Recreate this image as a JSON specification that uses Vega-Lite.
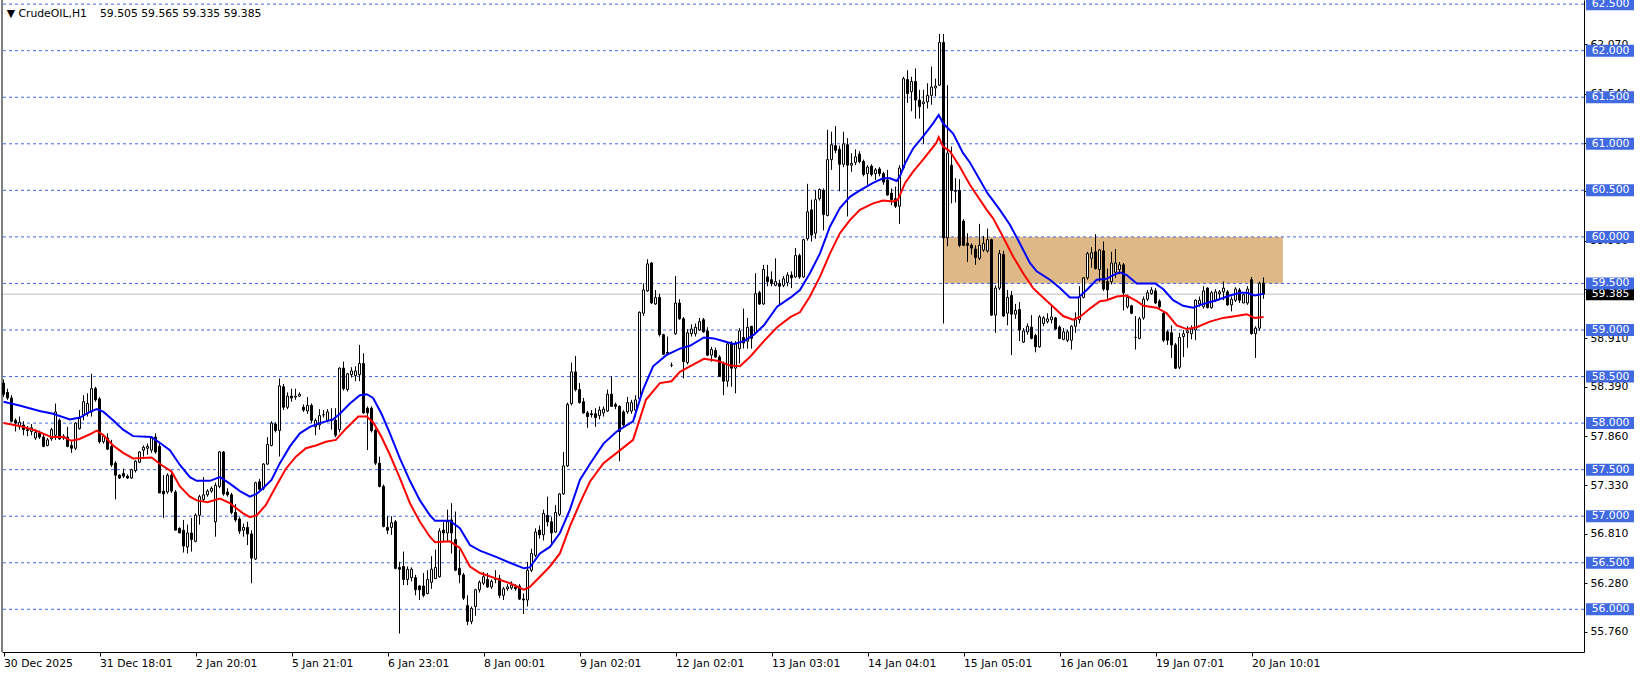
{
"$schema": "https://vega.github.io/schema/vega-lite/v6.json",
"width": 1582, "height": 652,
"autosize": {"type": "none"},
"padding": {"left": 2, "top": 0, "right": 57, "bottom": 23},
"background": "white",
"config": {"view": {"stroke": null}, "font": "DejaVu Sans", "scale": {"continuousPadding": 0}},
"datasets": {
"levels": [{"p":56.0},{"p":56.5},{"p":57.0},{"p":57.5},{"p":58.0},{"p":58.5},{"p":59.0},{"p":59.5},{"p":60.0},{"p":60.5},{"p":61.0},{"p":61.5},{"p":62.0},{"p":62.5}],
"candles": [
{"i":0,"o":58.43,"h":58.47,"l":58.28,"c":58.31},
{"i":1,"o":58.33,"h":58.37,"l":58.25,"c":58.27},
{"i":2,"o":58.27,"h":58.30,"l":58.01,"c":58.02},
{"i":3,"o":58.03,"h":58.05,"l":57.91,"c":58.00},
{"i":4,"o":57.96,"h":58.07,"l":57.93,"c":58.01},
{"i":5,"o":57.98,"h":58.02,"l":57.87,"c":57.93},
{"i":6,"o":57.93,"h":57.97,"l":57.86,"c":57.92},
{"i":7,"o":57.91,"h":57.99,"l":57.87,"c":57.95},
{"i":8,"o":57.84,"h":57.93,"l":57.82,"c":57.90},
{"i":9,"o":57.89,"h":57.92,"l":57.83,"c":57.85},
{"i":10,"o":57.85,"h":57.89,"l":57.74,"c":57.75},
{"i":11,"o":57.76,"h":57.84,"l":57.75,"c":57.82},
{"i":12,"o":57.83,"h":57.95,"l":57.81,"c":57.93},
{"i":13,"o":57.87,"h":58.21,"l":57.82,"c":58.12},
{"i":14,"o":58.03,"h":58.05,"l":57.82,"c":57.83},
{"i":15,"o":57.86,"h":57.88,"l":57.82,"c":57.84},
{"i":16,"o":57.85,"h":57.96,"l":57.74,"c":57.75},
{"i":17,"o":57.76,"h":57.82,"l":57.68,"c":57.73},
{"i":18,"o":57.73,"h":58.01,"l":57.71,"c":58.00},
{"i":19,"o":57.94,"h":58.14,"l":57.93,"c":58.05},
{"i":20,"o":58.09,"h":58.30,"l":58.03,"c":58.23},
{"i":21,"o":58.11,"h":58.32,"l":58.07,"c":58.21},
{"i":22,"o":58.12,"h":58.53,"l":58.07,"c":58.37},
{"i":23,"o":58.37,"h":58.39,"l":58.23,"c":58.25},
{"i":24,"o":58.26,"h":58.28,"l":57.78,"c":57.80},
{"i":25,"o":57.80,"h":57.88,"l":57.78,"c":57.86},
{"i":26,"o":57.84,"h":57.89,"l":57.71,"c":57.72},
{"i":27,"o":57.75,"h":57.82,"l":57.53,"c":57.55},
{"i":28,"o":57.57,"h":57.59,"l":57.18,"c":57.44},
{"i":29,"o":57.44,"h":57.45,"l":57.40,"c":57.41},
{"i":30,"o":57.46,"h":57.51,"l":57.41,"c":57.43},
{"i":31,"o":57.43,"h":57.45,"l":57.40,"c":57.41},
{"i":32,"o":57.41,"h":57.51,"l":57.40,"c":57.50},
{"i":33,"o":57.49,"h":57.60,"l":57.47,"c":57.59},
{"i":34,"o":57.58,"h":57.70,"l":57.57,"c":57.69},
{"i":35,"o":57.71,"h":57.76,"l":57.64,"c":57.74},
{"i":36,"o":57.73,"h":57.78,"l":57.66,"c":57.75},
{"i":37,"o":57.71,"h":57.85,"l":57.68,"c":57.84},
{"i":38,"o":57.85,"h":57.89,"l":57.67,"c":57.69},
{"i":39,"o":57.75,"h":57.78,"l":57.25,"c":57.25},
{"i":40,"o":57.27,"h":57.44,"l":56.98,"c":57.24},
{"i":41,"o":57.26,"h":57.46,"l":57.24,"c":57.44},
{"i":42,"o":57.44,"h":57.46,"l":57.25,"c":57.27},
{"i":43,"o":57.26,"h":57.28,"l":56.85,"c":56.85},
{"i":44,"o":56.87,"h":56.88,"l":56.82,"c":56.82},
{"i":45,"o":56.85,"h":56.96,"l":56.61,"c":56.68},
{"i":46,"o":56.67,"h":56.91,"l":56.60,"c":56.82},
{"i":47,"o":56.82,"h":56.98,"l":56.62,"c":56.75},
{"i":48,"o":56.73,"h":57.03,"l":56.72,"c":57.01},
{"i":49,"o":57.01,"h":57.23,"l":56.91,"c":57.21},
{"i":50,"o":57.18,"h":57.42,"l":57.16,"c":57.23},
{"i":51,"o":57.23,"h":57.29,"l":57.21,"c":57.27},
{"i":52,"o":57.27,"h":57.32,"l":57.25,"c":57.30},
{"i":53,"o":56.94,"h":57.36,"l":56.78,"c":57.33},
{"i":54,"o":57.32,"h":57.70,"l":57.30,"c":57.69},
{"i":55,"o":57.69,"h":57.70,"l":57.22,"c":57.24},
{"i":56,"o":57.26,"h":57.30,"l":57.21,"c":57.23},
{"i":57,"o":57.23,"h":57.25,"l":57.02,"c":57.04},
{"i":58,"o":57.04,"h":57.13,"l":56.94,"c":56.96},
{"i":59,"o":56.97,"h":56.99,"l":56.81,"c":56.84},
{"i":60,"o":56.85,"h":56.92,"l":56.78,"c":56.88},
{"i":61,"o":56.88,"h":56.94,"l":56.69,"c":56.81},
{"i":62,"o":56.81,"h":56.85,"l":56.28,"c":56.55},
{"i":63,"o":56.54,"h":57.37,"l":56.53,"c":57.36},
{"i":64,"o":57.37,"h":57.40,"l":57.27,"c":57.29},
{"i":65,"o":57.30,"h":57.57,"l":57.28,"c":57.56},
{"i":66,"o":57.56,"h":57.85,"l":57.55,"c":57.77},
{"i":67,"o":57.76,"h":58.02,"l":57.75,"c":58.00},
{"i":68,"o":57.99,"h":58.01,"l":57.90,"c":57.92},
{"i":69,"o":57.92,"h":58.48,"l":57.64,"c":58.40},
{"i":70,"o":58.39,"h":58.42,"l":58.14,"c":58.17},
{"i":71,"o":58.17,"h":58.33,"l":58.15,"c":58.29},
{"i":72,"o":58.29,"h":58.37,"l":58.23,"c":58.27},
{"i":73,"o":58.28,"h":58.37,"l":58.25,"c":58.29},
{"i":74,"o":58.29,"h":58.33,"l":58.28,"c":58.31},
{"i":75,"o":58.17,"h":58.20,"l":58.12,"c":58.14},
{"i":76,"o":58.13,"h":58.28,"l":58.10,"c":58.19},
{"i":77,"o":58.19,"h":58.21,"l":58.00,"c":58.03},
{"i":78,"o":57.96,"h":58.05,"l":57.87,"c":58.03},
{"i":79,"o":57.98,"h":58.15,"l":57.93,"c":58.08},
{"i":80,"o":58.09,"h":58.14,"l":58.06,"c":58.09},
{"i":81,"o":58.03,"h":58.15,"l":58.01,"c":58.12},
{"i":82,"o":58.04,"h":58.16,"l":57.93,"c":58.03},
{"i":83,"o":58.03,"h":58.16,"l":57.85,"c":57.87},
{"i":84,"o":57.93,"h":58.60,"l":57.90,"c":58.59},
{"i":85,"o":58.59,"h":58.66,"l":58.35,"c":58.37},
{"i":86,"o":58.36,"h":58.54,"l":58.34,"c":58.53},
{"i":87,"o":58.52,"h":58.60,"l":58.49,"c":58.56},
{"i":88,"o":58.51,"h":58.61,"l":58.45,"c":58.56},
{"i":89,"o":58.52,"h":58.84,"l":58.45,"c":58.64},
{"i":90,"o":58.64,"h":58.75,"l":58.10,"c":58.11},
{"i":91,"o":58.16,"h":58.18,"l":57.71,"c":58.11},
{"i":92,"o":58.16,"h":58.18,"l":57.90,"c":57.92},
{"i":93,"o":57.92,"h":57.94,"l":57.55,"c":57.57},
{"i":94,"o":57.57,"h":57.64,"l":57.31,"c":57.32},
{"i":95,"o":57.32,"h":57.34,"l":56.88,"c":56.89},
{"i":96,"o":56.88,"h":57.00,"l":56.81,"c":56.85},
{"i":97,"o":56.88,"h":57.00,"l":56.80,"c":56.93},
{"i":98,"o":56.94,"h":56.96,"l":56.43,"c":56.44},
{"i":99,"o":56.45,"h":56.51,"l":55.74,"c":56.43},
{"i":100,"o":56.46,"h":56.62,"l":56.26,"c":56.32},
{"i":101,"o":56.32,"h":56.46,"l":56.26,"c":56.43},
{"i":102,"o":56.34,"h":56.45,"l":56.30,"c":56.43},
{"i":103,"o":56.34,"h":56.37,"l":56.15,"c":56.21},
{"i":104,"o":56.25,"h":56.26,"l":56.10,"c":56.21},
{"i":105,"o":56.25,"h":56.39,"l":56.13,"c":56.15},
{"i":106,"o":56.17,"h":56.42,"l":56.16,"c":56.32},
{"i":107,"o":56.29,"h":56.57,"l":56.22,"c":56.43},
{"i":108,"o":56.33,"h":56.64,"l":56.33,"c":56.45},
{"i":109,"o":56.35,"h":56.87,"l":56.34,"c":56.84},
{"i":110,"o":56.85,"h":56.94,"l":56.73,"c":56.82},
{"i":111,"o":56.82,"h":57.07,"l":56.73,"c":56.94},
{"i":112,"o":56.96,"h":57.14,"l":56.60,"c":56.82},
{"i":113,"o":56.75,"h":57.05,"l":56.41,"c":56.42},
{"i":114,"o":56.44,"h":56.64,"l":56.28,"c":56.37},
{"i":115,"o":56.37,"h":56.39,"l":56.10,"c":56.12},
{"i":116,"o":56.04,"h":56.15,"l":55.83,"c":55.87},
{"i":117,"o":55.87,"h":56.03,"l":55.84,"c":56.01},
{"i":118,"o":56.03,"h":56.22,"l":55.93,"c":56.21},
{"i":119,"o":56.21,"h":56.31,"l":56.18,"c":56.29},
{"i":120,"o":56.28,"h":56.40,"l":56.26,"c":56.35},
{"i":121,"o":56.32,"h":56.39,"l":56.23,"c":56.24},
{"i":122,"o":56.24,"h":56.32,"l":56.22,"c":56.30},
{"i":123,"o":56.32,"h":56.42,"l":56.28,"c":56.33},
{"i":124,"o":56.33,"h":56.37,"l":56.12,"c":56.15},
{"i":125,"o":56.15,"h":56.24,"l":56.10,"c":56.22},
{"i":126,"o":56.22,"h":56.27,"l":56.20,"c":56.24},
{"i":127,"o":56.23,"h":56.30,"l":56.21,"c":56.26},
{"i":128,"o":56.24,"h":56.27,"l":56.20,"c":56.22},
{"i":129,"o":56.25,"h":56.27,"l":56.10,"c":56.11},
{"i":130,"o":56.11,"h":56.17,"l":55.95,"c":56.10},
{"i":131,"o":56.10,"h":56.51,"l":56.03,"c":56.42},
{"i":132,"o":56.42,"h":56.65,"l":56.40,"c":56.60},
{"i":133,"o":56.58,"h":56.87,"l":56.56,"c":56.83},
{"i":134,"o":56.85,"h":56.90,"l":56.76,"c":56.80},
{"i":135,"o":56.80,"h":57.07,"l":56.74,"c":57.03},
{"i":136,"o":57.01,"h":57.21,"l":56.89,"c":56.94},
{"i":137,"o":56.94,"h":56.99,"l":56.71,"c":56.82},
{"i":138,"o":56.83,"h":57.12,"l":56.82,"c":57.04},
{"i":139,"o":57.02,"h":57.25,"l":57.00,"c":57.24},
{"i":140,"o":57.24,"h":57.69,"l":57.23,"c":57.54},
{"i":141,"o":57.54,"h":58.22,"l":57.53,"c":58.20},
{"i":142,"o":58.21,"h":58.65,"l":58.19,"c":58.55},
{"i":143,"o":58.55,"h":58.72,"l":58.34,"c":58.36},
{"i":144,"o":58.36,"h":58.43,"l":58.21,"c":58.22},
{"i":145,"o":58.23,"h":58.27,"l":58.10,"c":58.11},
{"i":146,"o":58.11,"h":58.13,"l":57.95,"c":58.07},
{"i":147,"o":58.10,"h":58.14,"l":58.06,"c":58.09},
{"i":148,"o":58.10,"h":58.16,"l":57.96,"c":58.06},
{"i":149,"o":58.08,"h":58.18,"l":58.04,"c":58.14},
{"i":150,"o":58.11,"h":58.18,"l":58.07,"c":58.15},
{"i":151,"o":58.13,"h":58.36,"l":58.12,"c":58.31},
{"i":152,"o":58.31,"h":58.50,"l":58.18,"c":58.18},
{"i":153,"o":58.20,"h":58.22,"l":58.15,"c":58.18},
{"i":154,"o":58.18,"h":58.19,"l":57.59,"c":57.91},
{"i":155,"o":58.12,"h":58.14,"l":57.96,"c":57.98},
{"i":156,"o":58.12,"h":58.28,"l":58.10,"c":58.22},
{"i":157,"o":58.13,"h":58.25,"l":58.10,"c":58.22},
{"i":158,"o":58.14,"h":58.30,"l":58.07,"c":58.25},
{"i":159,"o":58.26,"h":59.20,"l":58.25,"c":59.19},
{"i":160,"o":59.18,"h":59.50,"l":59.15,"c":59.43},
{"i":161,"o":59.42,"h":59.76,"l":59.41,"c":59.71},
{"i":162,"o":59.72,"h":59.73,"l":59.28,"c":59.29},
{"i":163,"o":59.28,"h":59.43,"l":59.27,"c":59.35},
{"i":164,"o":59.35,"h":59.39,"l":58.93,"c":58.95},
{"i":165,"o":58.95,"h":58.96,"l":58.73,"c":58.74},
{"i":166,"o":58.76,"h":58.93,"l":58.73,"c":58.75},
{"i":167,"o":58.62,"h":58.65,"l":58.60,"c":58.62},
{"i":168,"o":58.96,"h":59.58,"l":58.95,"c":59.29},
{"i":169,"o":59.29,"h":59.33,"l":59.11,"c":59.12},
{"i":170,"o":59.12,"h":59.14,"l":58.48,"c":58.66},
{"i":171,"o":58.65,"h":59.01,"l":58.63,"c":58.97},
{"i":172,"o":58.96,"h":59.06,"l":58.93,"c":59.01},
{"i":173,"o":58.96,"h":59.07,"l":58.93,"c":59.03},
{"i":174,"o":59.00,"h":59.13,"l":58.99,"c":59.09},
{"i":175,"o":59.11,"h":59.13,"l":58.97,"c":58.98},
{"i":176,"o":58.99,"h":59.03,"l":58.72,"c":58.73},
{"i":177,"o":58.73,"h":58.82,"l":58.66,"c":58.79},
{"i":178,"o":58.78,"h":58.81,"l":58.70,"c":58.71},
{"i":179,"o":58.71,"h":58.73,"l":58.50,"c":58.50},
{"i":180,"o":58.64,"h":58.66,"l":58.30,"c":58.45},
{"i":181,"o":58.45,"h":58.86,"l":58.39,"c":58.85},
{"i":182,"o":58.85,"h":58.88,"l":58.39,"c":58.59},
{"i":183,"o":58.59,"h":58.88,"l":58.32,"c":58.85},
{"i":184,"o":58.80,"h":59.02,"l":58.64,"c":58.99},
{"i":185,"o":58.92,"h":59.23,"l":58.80,"c":58.86},
{"i":186,"o":58.88,"h":59.13,"l":58.80,"c":59.03},
{"i":187,"o":59.04,"h":59.04,"l":58.80,"c":58.91},
{"i":188,"o":58.97,"h":59.61,"l":58.96,"c":59.39},
{"i":189,"o":59.40,"h":59.42,"l":59.27,"c":59.28},
{"i":190,"o":59.28,"h":59.70,"l":59.27,"c":59.65},
{"i":191,"o":59.57,"h":59.70,"l":59.47,"c":59.52},
{"i":192,"o":59.54,"h":59.63,"l":59.47,"c":59.50},
{"i":193,"o":59.48,"h":59.77,"l":59.47,"c":59.52},
{"i":194,"o":59.50,"h":59.54,"l":59.27,"c":59.47},
{"i":195,"o":59.48,"h":59.58,"l":59.46,"c":59.55},
{"i":196,"o":59.51,"h":59.62,"l":59.47,"c":59.59},
{"i":197,"o":59.59,"h":59.63,"l":59.45,"c":59.56},
{"i":198,"o":59.57,"h":59.88,"l":59.56,"c":59.80},
{"i":199,"o":59.80,"h":59.82,"l":59.55,"c":59.57},
{"i":200,"o":59.57,"h":59.98,"l":59.56,"c":59.97},
{"i":201,"o":59.98,"h":60.57,"l":59.96,"c":60.27},
{"i":202,"o":60.29,"h":60.40,"l":59.95,"c":60.02},
{"i":203,"o":60.04,"h":60.50,"l":59.98,"c":60.40},
{"i":204,"o":60.41,"h":60.52,"l":60.39,"c":60.51},
{"i":205,"o":60.50,"h":60.52,"l":60.07,"c":60.24},
{"i":206,"o":60.23,"h":61.15,"l":60.22,"c":60.83},
{"i":207,"o":60.83,"h":61.13,"l":60.72,"c":60.99},
{"i":208,"o":60.98,"h":61.19,"l":60.90,"c":60.93},
{"i":209,"o":60.94,"h":60.98,"l":60.49,"c":60.78},
{"i":210,"o":60.78,"h":61.13,"l":60.75,"c":61.00},
{"i":211,"o":60.99,"h":61.06,"l":60.22,"c":60.77},
{"i":212,"o":60.77,"h":60.90,"l":60.70,"c":60.79},
{"i":213,"o":60.80,"h":60.94,"l":60.77,"c":60.86},
{"i":214,"o":60.89,"h":60.92,"l":60.79,"c":60.81},
{"i":215,"o":60.81,"h":60.83,"l":60.65,"c":60.67},
{"i":216,"o":60.68,"h":60.77,"l":60.56,"c":60.75},
{"i":217,"o":60.76,"h":60.78,"l":60.65,"c":60.67},
{"i":218,"o":60.68,"h":60.74,"l":60.61,"c":60.72},
{"i":219,"o":60.73,"h":60.75,"l":60.65,"c":60.68},
{"i":220,"o":60.68,"h":60.70,"l":60.56,"c":60.59},
{"i":221,"o":60.61,"h":60.72,"l":60.44,"c":60.45},
{"i":222,"o":60.47,"h":60.52,"l":60.34,"c":60.40},
{"i":223,"o":60.41,"h":60.54,"l":60.31,"c":60.33},
{"i":224,"o":60.33,"h":60.77,"l":60.14,"c":60.74},
{"i":225,"o":60.74,"h":61.72,"l":60.72,"c":61.70},
{"i":226,"o":61.69,"h":61.79,"l":61.44,"c":61.54},
{"i":227,"o":61.56,"h":61.72,"l":61.35,"c":61.67},
{"i":228,"o":61.67,"h":61.81,"l":61.27,"c":61.47},
{"i":229,"o":61.47,"h":61.58,"l":61.27,"c":61.40},
{"i":230,"o":61.43,"h":61.58,"l":61.00,"c":61.45},
{"i":231,"o":61.45,"h":61.65,"l":61.38,"c":61.52},
{"i":232,"o":61.52,"h":61.83,"l":61.42,"c":61.61},
{"i":233,"o":61.60,"h":61.70,"l":61.51,"c":61.62},
{"i":234,"o":61.63,"h":62.18,"l":61.62,"c":62.09},
{"i":235,"o":62.09,"h":62.18,"l":59.07,"c":59.99},
{"i":236,"o":59.99,"h":61.63,"l":59.90,"c":60.90},
{"i":237,"o":60.77,"h":60.97,"l":60.36,"c":60.50},
{"i":238,"o":60.50,"h":60.63,"l":60.37,"c":60.49},
{"i":239,"o":60.50,"h":60.62,"l":59.89,"c":59.91},
{"i":240,"o":60.17,"h":60.19,"l":59.90,"c":59.91},
{"i":241,"o":59.93,"h":60.04,"l":59.73,"c":59.91},
{"i":242,"o":59.91,"h":59.93,"l":59.81,"c":59.88},
{"i":243,"o":59.87,"h":59.91,"l":59.70,"c":59.78},
{"i":244,"o":59.77,"h":60.14,"l":59.75,"c":59.91},
{"i":245,"o":59.86,"h":60.01,"l":59.84,"c":59.93},
{"i":246,"o":59.85,"h":60.09,"l":59.83,"c":59.97},
{"i":247,"o":59.97,"h":59.98,"l":59.15,"c":59.16},
{"i":248,"o":59.16,"h":59.48,"l":58.97,"c":59.45},
{"i":249,"o":59.45,"h":59.86,"l":59.43,"c":59.82},
{"i":250,"o":59.81,"h":59.85,"l":59.14,"c":59.15},
{"i":251,"o":59.18,"h":59.43,"l":59.05,"c":59.35},
{"i":252,"o":59.37,"h":59.42,"l":58.73,"c":59.17},
{"i":253,"o":59.17,"h":59.28,"l":59.12,"c":59.21},
{"i":254,"o":59.22,"h":59.30,"l":58.88,"c":59.00},
{"i":255,"o":58.87,"h":59.02,"l":58.86,"c":58.99},
{"i":256,"o":58.98,"h":59.07,"l":58.95,"c":59.04},
{"i":257,"o":59.03,"h":59.16,"l":58.90,"c":58.91},
{"i":258,"o":58.94,"h":58.96,"l":58.76,"c":58.82},
{"i":259,"o":58.82,"h":59.16,"l":58.81,"c":59.14},
{"i":260,"o":59.07,"h":59.15,"l":59.04,"c":59.13},
{"i":261,"o":59.09,"h":59.18,"l":59.07,"c":59.12},
{"i":262,"o":59.11,"h":59.26,"l":59.07,"c":59.14},
{"i":263,"o":59.13,"h":59.14,"l":59.00,"c":59.01},
{"i":264,"o":59.03,"h":59.05,"l":58.90,"c":58.91},
{"i":265,"o":58.90,"h":59.02,"l":58.89,"c":58.98},
{"i":266,"o":58.89,"h":59.00,"l":58.87,"c":58.98},
{"i":267,"o":58.89,"h":59.05,"l":58.79,"c":59.04},
{"i":268,"o":59.04,"h":59.19,"l":58.97,"c":59.11},
{"i":269,"o":59.11,"h":59.47,"l":59.07,"c":59.35},
{"i":270,"o":59.35,"h":59.57,"l":59.34,"c":59.56},
{"i":271,"o":59.56,"h":59.84,"l":59.54,"c":59.82},
{"i":272,"o":59.77,"h":59.89,"l":59.67,"c":59.83},
{"i":273,"o":59.84,"h":60.03,"l":59.65,"c":59.66},
{"i":274,"o":59.65,"h":59.87,"l":59.52,"c":59.86},
{"i":275,"o":59.85,"h":59.95,"l":59.42,"c":59.44},
{"i":276,"o":59.52,"h":59.66,"l":59.33,"c":59.43},
{"i":277,"o":59.52,"h":59.84,"l":59.49,"c":59.72},
{"i":278,"o":59.62,"h":59.87,"l":59.56,"c":59.72},
{"i":279,"o":59.65,"h":59.73,"l":59.60,"c":59.70},
{"i":280,"o":59.70,"h":59.72,"l":59.21,"c":59.40},
{"i":281,"o":59.25,"h":59.38,"l":59.23,"c":59.35},
{"i":282,"o":59.26,"h":59.27,"l":59.17,"c":59.18},
{"i":283,"o":58.92,"h":59.15,"l":58.79,"c":58.92},
{"i":284,"o":58.91,"h":59.14,"l":58.90,"c":59.12},
{"i":285,"o":59.13,"h":59.36,"l":59.11,"c":59.33},
{"i":286,"o":59.33,"h":59.43,"l":59.31,"c":59.40},
{"i":287,"o":59.39,"h":59.46,"l":59.38,"c":59.43},
{"i":288,"o":59.42,"h":59.45,"l":59.28,"c":59.29},
{"i":289,"o":59.31,"h":59.33,"l":59.22,"c":59.25},
{"i":290,"o":59.18,"h":59.20,"l":58.87,"c":58.89},
{"i":291,"o":58.98,"h":59.00,"l":58.84,"c":58.89},
{"i":292,"o":58.97,"h":59.05,"l":58.70,"c":58.84},
{"i":293,"o":58.84,"h":58.86,"l":58.58,"c":58.59},
{"i":294,"o":58.60,"h":58.97,"l":58.58,"c":58.92},
{"i":295,"o":58.93,"h":59.00,"l":58.71,"c":58.96},
{"i":296,"o":58.97,"h":59.04,"l":58.81,"c":58.99},
{"i":297,"o":58.96,"h":59.05,"l":58.90,"c":59.01},
{"i":298,"o":59.00,"h":59.33,"l":58.89,"c":59.32},
{"i":299,"o":59.28,"h":59.36,"l":59.25,"c":59.32},
{"i":300,"o":59.25,"h":59.47,"l":59.23,"c":59.42},
{"i":301,"o":59.45,"h":59.46,"l":59.23,"c":59.24},
{"i":302,"o":59.24,"h":59.42,"l":59.23,"c":59.40},
{"i":303,"o":59.32,"h":59.44,"l":59.30,"c":59.41},
{"i":304,"o":59.39,"h":59.43,"l":59.33,"c":59.41},
{"i":305,"o":59.41,"h":59.52,"l":59.32,"c":59.45},
{"i":306,"o":59.41,"h":59.43,"l":59.26,"c":59.27},
{"i":307,"o":59.27,"h":59.36,"l":59.20,"c":59.33},
{"i":308,"o":59.32,"h":59.46,"l":59.30,"c":59.44},
{"i":309,"o":59.43,"h":59.45,"l":59.29,"c":59.32},
{"i":310,"o":59.29,"h":59.39,"l":59.29,"c":59.38},
{"i":311,"o":59.29,"h":59.47,"l":59.27,"c":59.44},
{"i":312,"o":59.54,"h":59.57,"l":58.95,"c":58.96},
{"i":313,"o":58.96,"h":59.04,"l":58.70,"c":59.02},
{"i":314,"o":59.02,"h":59.52,"l":58.99,"c":59.50},
{"i":315,"o":59.505,"h":59.565,"l":59.335,"c":59.385}
],
"blue": [
{"i":0,"v":58.23},{"i":4,"v":58.19},{"i":9,"v":58.13},{"i":12.4,"v":58.10},{"i":16.6,"v":58.04},{"i":19.1,"v":58.06},{"i":21.6,"v":58.12},{"i":23.3,"v":58.15},{"i":25,"v":58.12},{"i":27.4,"v":58.03},{"i":29.9,"v":57.93},{"i":32.4,"v":57.86},{"i":37,"v":57.85},{"i":38.7,"v":57.80},{"i":41.6,"v":57.71},{"i":44.1,"v":57.55},{"i":46.6,"v":57.42},{"i":48.3,"v":57.38},{"i":51.6,"v":57.38},{"i":54.1,"v":57.42},{"i":56.6,"v":57.35},{"i":59.1,"v":57.27},{"i":61.6,"v":57.21},{"i":63.3,"v":57.24},{"i":64.9,"v":57.30},{"i":67,"v":57.39},{"i":69.1,"v":57.57},{"i":71.6,"v":57.75},{"i":74.1,"v":57.89},{"i":76.6,"v":57.96},{"i":79.1,"v":58.00},{"i":82.4,"v":58.04},{"i":84.1,"v":58.10},{"i":86.6,"v":58.21},{"i":89.1,"v":58.30},{"i":90.8,"v":58.31},{"i":92.4,"v":58.27},{"i":94.5,"v":58.10},{"i":96.6,"v":57.89},{"i":99.1,"v":57.62},{"i":101.6,"v":57.38},{"i":104.1,"v":57.17},{"i":106.6,"v":57.01},{"i":107.9,"v":56.95},{"i":111.6,"v":56.95},{"i":114.1,"v":56.87},{"i":116.6,"v":56.69},{"i":119.1,"v":56.63},{"i":123.3,"v":56.56},{"i":126.6,"v":56.50},{"i":130.1,"v":56.44},{"i":131.6,"v":56.45},{"i":134.1,"v":56.60},{"i":136.6,"v":56.67},{"i":139.1,"v":56.82},{"i":141.6,"v":57.07},{"i":144.1,"v":57.39},{"i":146.6,"v":57.56},{"i":150,"v":57.78},{"i":153.3,"v":57.91},{"i":157.4,"v":58.02},{"i":159.9,"v":58.36},{"i":162.4,"v":58.61},{"i":165.7,"v":58.73},{"i":169.1,"v":58.80},{"i":171.6,"v":58.83},{"i":175.1,"v":58.92},{"i":177.6,"v":58.91},{"i":180.1,"v":58.88},{"i":182.6,"v":58.85},{"i":185.1,"v":58.88},{"i":187.6,"v":58.95},{"i":190.1,"v":59.05},{"i":193.4,"v":59.25},{"i":196.8,"v":59.35},{"i":199.1,"v":59.43},{"i":201.6,"v":59.61},{"i":204.1,"v":59.82},{"i":206.6,"v":60.11},{"i":209.1,"v":60.31},{"i":211.6,"v":60.43},{"i":214.1,"v":60.50},{"i":217.4,"v":60.58},{"i":219.9,"v":60.63},{"i":221.6,"v":60.63},{"i":223.3,"v":60.60},{"i":224.1,"v":60.65},{"i":225.4,"v":60.79},{"i":227.4,"v":60.95},{"i":229.9,"v":61.08},{"i":232.4,"v":61.22},{"i":233.8,"v":61.31},{"i":234.9,"v":61.22},{"i":237.4,"v":61.11},{"i":239.9,"v":60.90},{"i":241.6,"v":60.80},{"i":246,"v":60.47},{"i":249.1,"v":60.29},{"i":251.6,"v":60.13},{"i":254.1,"v":59.93},{"i":256.6,"v":59.72},{"i":258.3,"v":59.63},{"i":261.6,"v":59.54},{"i":264.1,"v":59.45},{"i":266.6,"v":59.35},{"i":268.7,"v":59.35},{"i":270.8,"v":59.43},{"i":273.3,"v":59.54},{"i":275.8,"v":59.55},{"i":277.4,"v":59.59},{"i":279.1,"v":59.62},{"i":280.8,"v":59.59},{"i":283.3,"v":59.50},{"i":287.9,"v":59.50},{"i":289.9,"v":59.44},{"i":292.4,"v":59.32},{"i":294.9,"v":59.26},{"i":297.4,"v":59.24},{"i":299.9,"v":59.28},{"i":303.3,"v":59.32},{"i":306.6,"v":59.37},{"i":309.1,"v":59.40},{"i":310.8,"v":59.40},{"i":312.8,"v":59.37},{"i":315,"v":59.39}
],
"red": [
{"i":0,"v":58.00},{"i":4,"v":57.97},{"i":8,"v":57.92},{"i":12,"v":57.85},{"i":15,"v":57.85},{"i":17,"v":57.81},{"i":19,"v":57.83},{"i":21.6,"v":57.88},{"i":23.3,"v":57.92},{"i":25,"v":57.87},{"i":27.4,"v":57.76},{"i":29.9,"v":57.68},{"i":32.4,"v":57.62},{"i":37,"v":57.63},{"i":39.5,"v":57.55},{"i":42,"v":57.48},{"i":44.1,"v":57.32},{"i":46.6,"v":57.21},{"i":48.3,"v":57.17},{"i":51,"v":57.15},{"i":54.1,"v":57.19},{"i":56.6,"v":57.14},{"i":59.9,"v":57.03},{"i":61.6,"v":56.99},{"i":63.3,"v":57.01},{"i":65.6,"v":57.12},{"i":68.1,"v":57.32},{"i":70.6,"v":57.51},{"i":73.1,"v":57.64},{"i":75.6,"v":57.73},{"i":78.1,"v":57.76},{"i":80.6,"v":57.80},{"i":83.1,"v":57.82},{"i":85.6,"v":57.94},{"i":88.7,"v":58.07},{"i":90.8,"v":58.07},{"i":92.4,"v":58.01},{"i":94.5,"v":57.85},{"i":96.6,"v":57.66},{"i":99.1,"v":57.41},{"i":101.6,"v":57.14},{"i":104.1,"v":56.94},{"i":106.6,"v":56.78},{"i":107.9,"v":56.72},{"i":111.6,"v":56.73},{"i":114.1,"v":56.66},{"i":116.6,"v":56.46},{"i":119.1,"v":56.39},{"i":123.3,"v":56.33},{"i":126.6,"v":56.28},{"i":130.1,"v":56.21},{"i":131.6,"v":56.24},{"i":134.1,"v":56.35},{"i":136.6,"v":56.46},{"i":139.1,"v":56.60},{"i":141.6,"v":56.89},{"i":144.1,"v":57.14},{"i":146.6,"v":57.37},{"i":150,"v":57.57},{"i":153.3,"v":57.68},{"i":157.4,"v":57.82},{"i":160.6,"v":58.25},{"i":164.1,"v":58.43},{"i":167,"v":58.45},{"i":169.1,"v":58.55},{"i":171.6,"v":58.61},{"i":175.1,"v":58.69},{"i":178.4,"v":58.67},{"i":181.6,"v":58.62},{"i":184.1,"v":58.61},{"i":186.6,"v":58.71},{"i":190.1,"v":58.88},{"i":193.4,"v":59.03},{"i":196.8,"v":59.14},{"i":199.1,"v":59.19},{"i":201.6,"v":59.36},{"i":204.1,"v":59.57},{"i":206.6,"v":59.82},{"i":209.1,"v":60.04},{"i":211.6,"v":60.18},{"i":214.1,"v":60.29},{"i":217.4,"v":60.36},{"i":219.9,"v":60.39},{"i":222.4,"v":60.38},{"i":223.6,"v":60.40},{"i":225.4,"v":60.58},{"i":227.4,"v":60.70},{"i":229.9,"v":60.83},{"i":233.2,"v":61.01},{"i":233.8,"v":61.07},{"i":234.9,"v":60.97},{"i":236.6,"v":60.92},{"i":239.1,"v":60.75},{"i":241.6,"v":60.56},{"i":245.8,"v":60.29},{"i":247.4,"v":60.20},{"i":249.9,"v":60.00},{"i":252.4,"v":59.79},{"i":254.9,"v":59.61},{"i":257.4,"v":59.45},{"i":259.9,"v":59.35},{"i":262.4,"v":59.25},{"i":264.9,"v":59.15},{"i":267.4,"v":59.11},{"i":269.1,"v":59.14},{"i":271.6,"v":59.23},{"i":274.1,"v":59.31},{"i":275.8,"v":59.32},{"i":278.3,"v":59.36},{"i":280.8,"v":59.37},{"i":283.3,"v":59.31},{"i":285,"v":59.26},{"i":288.3,"v":59.24},{"i":290.8,"v":59.18},{"i":293.3,"v":59.05},{"i":295.8,"v":59.01},{"i":298.3,"v":59.03},{"i":301.6,"v":59.09},{"i":304.9,"v":59.13},{"i":308.2,"v":59.15},{"i":310.8,"v":59.17},{"i":312.8,"v":59.13},{"i":315,"v":59.14}
]
},
"layer": [
{
"data": {"name": "levels"},
"mark": {"type": "rect", "fill": "#DEB887"},
"transform": [{"filter": "datum.p == 60"}],
"encoding": {
"x": {"datum": 234.85, "type": "quantitative", "scale": {"domain": [-0.375, 395.125], "nice": false, "zero": false, "padding": 0},
 "axis": {"values": [0,24,48,72,96,120,144,168,192,216,240,264,288,312], "labelExpr": "['30 Dec 2025','31 Dec 18:01','2 Jan 20:01','5 Jan 21:01','6 Jan 23:01','8 Jan 00:01','9 Jan 02:01','12 Jan 02:01','13 Jan 03:01','14 Jan 04:01','15 Jan 05:01','16 Jan 06:01','19 Jan 07:01','20 Jan 10:01'][round(datum.value/24)]", "labelAlign": "left", "labelFont": "DejaVu Sans", "labelFontSize": 10.8, "labelColor": "black", "tickColor": "black", "tickSize": 4, "domainColor": "black", "labelPadding": 1, "grid": false, "title": null, "labelOverlap": false, "labelBound": false, "labelFlush": false}},
"x2": {"datum": 319.85},
"y": {"datum": 60.0, "type": "quantitative", "scale": {"domain": [55.5414, 62.5446], "nice": false, "zero": false, "padding": 0},
 "axis": {"orient": "right", "values": [55.76,56.28,56.81,57.33,57.86,58.39,58.91,59.44,59.96,60.49,61.01,61.54,62.07], "format": ".3f", "labelAlign": "left", "labelBaseline": "middle", "labelFont": "DejaVu Sans", "labelFontSize": 10.8, "labelColor": "black", "tickColor": "black", "tickSize": 3, "labelPadding": 3, "domainColor": "black", "grid": false, "title": null, "labelOverlap": false, "labelBound": false, "labelFlush": false}},
"y2": {"datum": 59.5}
}
},
{
"data": {"name": "levels"},
"mark": {"type": "rule", "stroke": "#4169E1", "strokeWidth": 1, "strokeDash": [3, 3]},
"encoding": {"y": {"field": "p", "type": "quantitative"}}
},
{
"data": {"values": [{"p": 59.385}]},
"mark": {"type": "rule", "stroke": "#C0C0C0", "strokeWidth": 1},
"encoding": {"y": {"field": "p", "type": "quantitative"}}
},
{
"data": {"values": [{"x": -0.375}]},
"mark": {"type": "rule", "stroke": "black", "strokeWidth": 1},
"encoding": {"x": {"field": "x", "type": "quantitative"}}
},
{
"data": {"name": "candles"},
"mark": {"type": "rule", "stroke": "black", "strokeWidth": 1},
"encoding": {"x": {"field": "i", "type": "quantitative"}, "y": {"field": "l", "type": "quantitative"}, "y2": {"field": "h"}}
},
{
"data": {"name": "candles"},
"mark": {"type": "bar", "size": 2, "stroke": "black", "strokeWidth": 1},
"encoding": {
"x": {"field": "i", "type": "quantitative"},
"y": {"field": "o", "type": "quantitative"},
"y2": {"field": "c"},
"fill": {"condition": {"test": "datum.c >= datum.o", "value": "white"}, "value": "black"}
}
},
{
"data": {"name": "blue"},
"mark": {"type": "line", "stroke": "#0000FF", "strokeWidth": 2},
"encoding": {"x": {"field": "i", "type": "quantitative"}, "y": {"field": "v", "type": "quantitative"}}
},
{
"data": {"name": "red"},
"mark": {"type": "line", "stroke": "#FF0000", "strokeWidth": 2},
"encoding": {"x": {"field": "i", "type": "quantitative"}, "y": {"field": "v", "type": "quantitative"}}
},
{
"data": {"values": [{"p": 59.385}]},
"mark": {"type": "tick", "orient": "horizontal", "color": "black", "size": 48, "thickness": 12, "opacity": 1},
"encoding": {"x": {"datum": 401.625, "type": "quantitative"}, "y": {"field": "p", "type": "quantitative"}}
},
{
"data": {"values": [{"p": 59.385}]},
"mark": {"type": "text", "color": "white", "font": "DejaVu Sans", "fontSize": 10.8, "align": "left", "baseline": "middle"},
"encoding": {"x": {"datum": 397.05, "type": "quantitative"}, "y": {"field": "p", "type": "quantitative"}, "text": {"field": "p", "type": "quantitative", "format": ".3f"}}
},
{
"data": {"name": "levels"},
"mark": {"type": "tick", "orient": "horizontal", "color": "#4169E1", "size": 48, "thickness": 12, "opacity": 1},
"encoding": {"x": {"datum": 401.625, "type": "quantitative"}, "y": {"field": "p", "type": "quantitative"}}
},
{
"data": {"name": "levels"},
"mark": {"type": "text", "color": "white", "font": "DejaVu Sans", "fontSize": 10.8, "align": "left", "baseline": "middle"},
"encoding": {"x": {"datum": 397.05, "type": "quantitative"}, "y": {"field": "p", "type": "quantitative"}, "text": {"field": "p", "type": "quantitative", "format": ".3f"}}
},
{
"data": {"values": [{"t": "▼ CrudeOIL,H1"}]},
"mark": {"type": "text", "color": "black", "font": "DejaVu Sans", "fontSize": 10.8, "align": "left", "baseline": "alphabetic"},
"encoding": {"x": {"datum": 0.8, "type": "quantitative"}, "y": {"datum": 62.3652, "type": "quantitative"}, "text": {"field": "t"}}
},
{
"data": {"values": [{"t": "59.505 59.565 59.335 59.385"}]},
"mark": {"type": "text", "color": "black", "font": "DejaVu Sans", "fontSize": 10.8, "align": "left", "baseline": "alphabetic"},
"encoding": {"x": {"datum": 24.125, "type": "quantitative"}, "y": {"datum": 62.3652, "type": "quantitative"}, "text": {"field": "t"}}
}
]
}
